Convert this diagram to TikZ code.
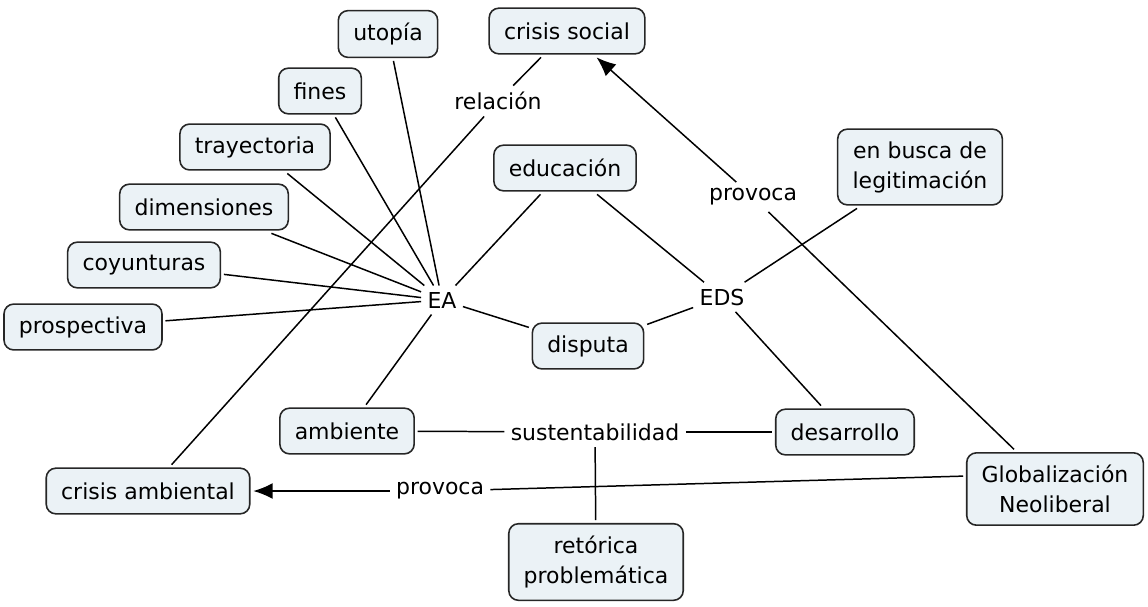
\documentclass[tikz,border=0pt]{standalone}
\usepackage{fontspec}
\setmainfont{DejaVu Sans}
\usepackage{xcolor}
\usetikzlibrary{arrows.meta}

\definecolor{boxfill}{RGB}{235,242,246}

\tikzset{
  concept/.style={rectangle,rounded corners=5.5pt,draw=black!85,line width=0.9pt,
    fill=boxfill,inner xsep=8.5pt,inner ysep=7pt,minimum height=26pt,
    align=center,outer sep=2pt,font=\fontsize{12.5}{17}\selectfont},
  linkword/.style={inner sep=3.5pt,font=\fontsize{12.5}{17}\selectfont},
  link/.style={line width=0.85pt},
  linkto/.style={line width=0.85pt,-{Latex[length=11pt,width=9pt]}}
}

\begin{document}
\begin{tikzpicture}[x=0.02cm,y=-0.02cm]
\useasboundingbox (0,0) rectangle (1148,606);

\node at (388,34)  [concept] (utopia)   {utopía};
\node at (567,31)  [concept] (crisoc)   {crisis social};
\node at (320,91)  [concept] (fines)    {fines};
\node at (255,147) [concept] (trayect)  {trayectoria};
\node at (565,168) [concept] (educ)     {educación};
\node at (920,167) [concept] (legit)    {en busca de\\legitimación};
\node at (204,207) [concept] (dimens)   {dimensiones};
\node at (144,265) [concept] (coyunt)   {coyunturas};
\node at (83,327)  [concept] (prosp)    {prospectiva};
\node at (588,346) [concept] (disputa)  {disputa};
\node at (347,431) [concept] (ambiente) {ambiente};
\node at (845,432) [concept] (desarr)   {desarrollo};
\node at (148,491) [concept] (crisamb)  {crisis ambiental};
\node at (1055,489)[concept] (glob)     {Globalización\\Neoliberal};
\node at (596,562) [concept] (retorica) {retórica\\problemática};

\node at (498,101) [linkword] (relacion) {relación};
\node at (753,197) [linkword] (prova)    {provoca};
\node at (442,300) [linkword] (ea)       {EA};
\node at (722,297) [linkword] (eds)      {EDS};
\node at (595,432) [linkword] (sustent)  {sustentabilidad};
\node at (440,491) [linkword] (provb)    {provoca};

% EA
\draw [link] (utopia) -- (ea);
\draw [link] (fines) -- (ea);
\draw [link] (trayect) -- (ea);
\draw [link] (dimens) -- (ea);
\draw [link] (coyunt) -- (ea);
\draw [link] (prosp) -- (ea);
\draw [link] (ea) -- (educ);
\draw [link] (ea) -- (ambiente);
\draw [link] (ea) -- (disputa);

% EDS
\draw [link] (disputa) -- (eds);
\draw [link] (educ) -- (eds);
\draw [link] (eds) -- (desarr);
\draw [link] (eds) -- (legit);

% relacion
\draw [link] (crisamb) -- (relacion);
\draw [link] (relacion) -- (crisoc);

% sustentabilidad
\draw [link] (ambiente) -- (sustent);
\draw [link] (sustent) -- (desarr);
\draw [link] (sustent) -- (retorica);

% provoca
\draw [link] (glob) -- (prova);
\draw [linkto] (prova) -- (crisoc);
\draw [link] (glob.172) -- (provb);
\draw [linkto] (provb) -- (crisamb);
\end{tikzpicture}
\end{document}
